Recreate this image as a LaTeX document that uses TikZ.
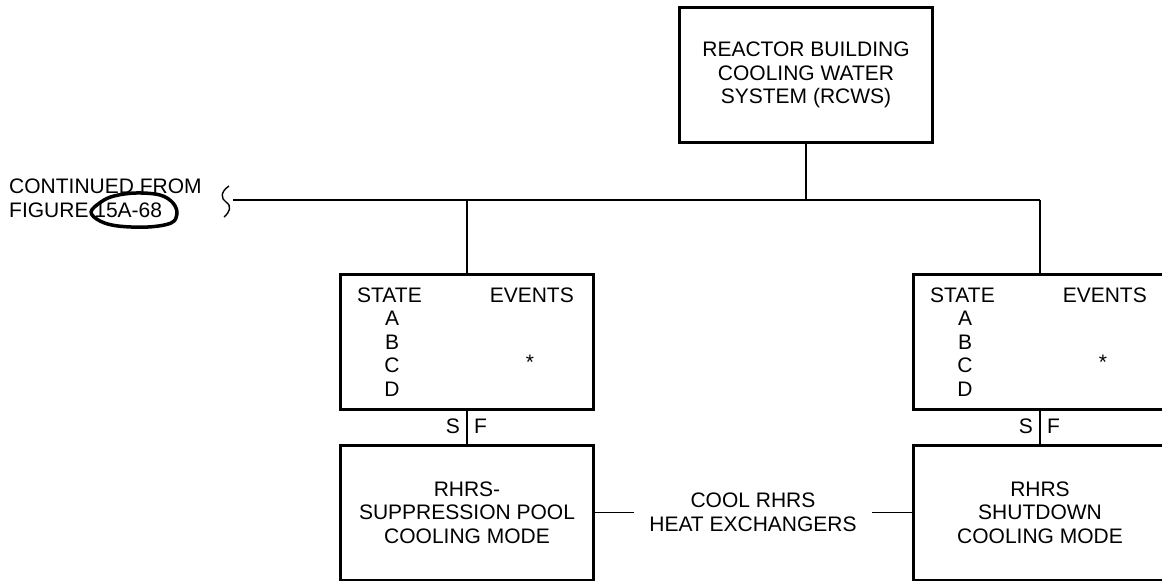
\documentclass[tikz,border=0pt]{standalone}
\usepackage{fontspec}
\setmainfont{Liberation Sans}

\begin{document}
\begin{tikzpicture}[x=1pt,y=-1pt,
  font=\fontsize{21}{23.5}\selectfont,
  box/.style={draw,line width=3pt,minimum width=253pt,minimum height=135pt,
    align=center,inner sep=0pt},
  link/.style={line width=1.4pt},
  txt/.style={inner sep=0pt}]
  \useasboundingbox (0,0) rectangle (1162,581);
  \clip (0,0) rectangle (1162,581);
  % Top system
  \node[box] (rcws) at (806,75) {REACTOR BUILDING\\COOLING WATER\\SYSTEM (RCWS)};
  % Continuation note
  \node[txt,anchor=base west] (cont) at (9,193) {CONTINUED FROM};
  \node[txt,anchor=base west] (fig) at (9,217) {FIGURE 15A-68};
  \draw[line width=3.5pt,line join=round]
       plot[smooth cycle,tension=0.6] coordinates {
       (91,212) (101,202) (114,196) (136,193) (160,195) (173,203)
       (177,214) (171,223) (148,227) (118,226) (100,221)};
  \draw[link] (229,186) .. controls (220,192) and (221,199) .. (226,202)
       .. controls (232,206) and (230,212) .. (224,217);
  % Bus
  \coordinate (cut) at (233,200);
  \coordinate (split) at (806,200);
  \coordinate (jL) at (467,200);
  \coordinate (jR) at (1040,200);
  \draw[link] (rcws.south) -- (split);
  \draw[link] (cut) -- (jR);
  % State boxes and modes
  \foreach \n/\x/\mode in {L/467/{RHRS-\\SUPPRESSION POOL\\COOLING MODE},
                           R/1040/{RHRS\\SHUTDOWN\\COOLING MODE}} {
    \node[box] (state\n) at (\x,342) {};
    \node[box] (mode\n) at (\x,512.5) {\mode};
    \node[txt,anchor=base west] (st\n) at (\x-110,302) {STATE};
    \node[txt,anchor=base east] (ev\n) at (\x+107,302) {EVENTS};
    \foreach \s/\y in {A/325.5,B/349,C/372.5,D/396}
      \node[txt,anchor=base] (\s\n) at (\x-75,\y) {\s};
    \node[txt,anchor=base] (ast\n) at (\x+63,369) {*};
    \draw[link] (j\n) -- (state\n.north);
    \draw[link] (state\n.south) -- (mode\n.north);
    \node[txt,anchor=base east] (s\n) at (\x-7,433) {S};
    \node[txt,anchor=base west] (f\n) at (\x+7,433) {F};
  }
  % Heat exchangers link
  \node[inner xsep=15pt,inner ysep=0pt,align=center] (cool) at (753,512.5)
       {COOL RHRS\\HEAT EXCHANGERS};
  \draw[link] (modeL.east) -- (cool.west);
  \draw[link] (cool.east) -- (modeR.west);
\end{tikzpicture}
\end{document}
